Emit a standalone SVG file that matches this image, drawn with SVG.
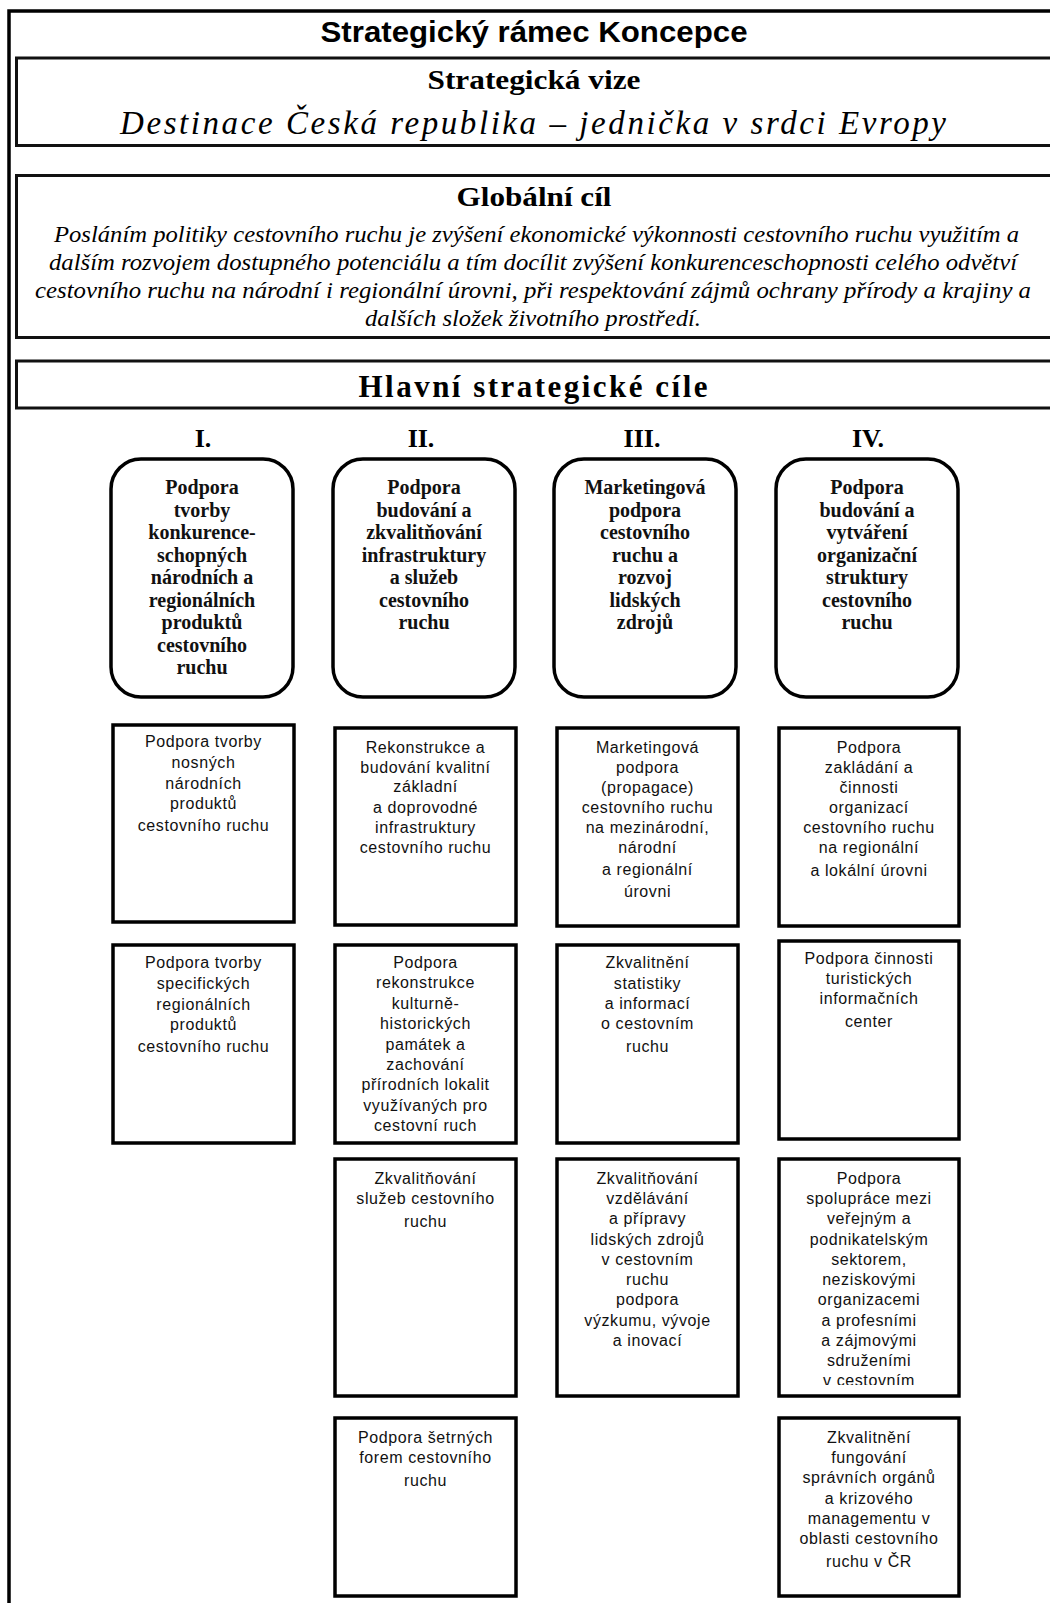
<svg xmlns="http://www.w3.org/2000/svg" width="1050" height="1603" viewBox="0 0 1050 1603">
<style>
.frame{fill:none;stroke:#000;stroke-width:3.5}
.band{fill:#fff;stroke:#111;stroke-width:3}
.goal{fill:#fff;stroke:#000;stroke-width:3.5}
.sub{fill:#fff;stroke:#000;stroke-width:3.5}
.title{font-family:"Liberation Sans",Arial,sans-serif;font-weight:bold;font-size:29px;fill:#000;text-anchor:middle}
.hb{font-family:"Liberation Serif","Times New Roman",serif;font-weight:bold;font-size:28px;fill:#000;text-anchor:middle}
.hl{font-family:"Liberation Serif","Times New Roman",serif;font-weight:bold;font-size:31px;fill:#000;text-anchor:middle}
.vis{font-family:"Liberation Serif","Times New Roman",serif;font-style:italic;font-size:33px;fill:#000;text-anchor:middle}
.par{font-family:"Liberation Serif","Times New Roman",serif;font-style:italic;font-size:24px;fill:#000;text-anchor:middle}
.rom{font-family:"Liberation Serif","Times New Roman",serif;font-weight:bold;font-size:26px;fill:#000;text-anchor:middle}
.gt{font-family:"Liberation Serif","Times New Roman",serif;font-weight:bold;font-size:20px;fill:#111;text-anchor:middle}
.st{font-family:"Liberation Sans",Arial,sans-serif;font-size:16px;letter-spacing:0.6px;fill:#111;text-anchor:middle}
</style>
<defs>
<clipPath id="clipIV3"><rect x="781" y="1161" width="176" height="224"/></clipPath>
</defs>

<g id="frame">
<path class="frame" d="M9,1603 V11 H1050"/>
<text class="title" x="534" y="42" textLength="427" lengthAdjust="spacingAndGlyphs">Strategický rámec Koncepce</text>
</g>

<g id="vize">
<rect class="band" x="16.5" y="58" width="1040" height="87.5"/>
<text class="hb" x="534" y="89" textLength="213" lengthAdjust="spacingAndGlyphs">Strategická vize</text>
<text class="vis" x="533" y="134" textLength="826" lengthAdjust="spacing">Destinace Česká republika – jednička v srdci Evropy</text>
</g>

<g id="globalni-cil">
<rect class="band" x="16.5" y="175.5" width="1040" height="162"/>
<text class="hb" x="534" y="206" textLength="155" lengthAdjust="spacingAndGlyphs">Globální cíl</text>
<text class="par" x="536.5" y="242" textLength="965" lengthAdjust="spacingAndGlyphs">Posláním politiky cestovního ruchu je zvýšení ekonomické výkonnosti cestovního ruchu využitím a</text>
<text class="par" x="533" y="270" textLength="968" lengthAdjust="spacingAndGlyphs">dalším rozvojem dostupného potenciálu a tím docílit zvýšení konkurenceschopnosti celého odvětví</text>
<text class="par" x="533" y="298" textLength="996" lengthAdjust="spacingAndGlyphs">cestovního ruchu na národní i regionální úrovni, při respektování zájmů ochrany přírody a krajiny a</text>
<text class="par" x="533" y="326" textLength="336" lengthAdjust="spacingAndGlyphs">dalších složek životního prostředí.</text>
</g>

<g id="hlavni-cile">
<rect class="band" x="16.5" y="361" width="1040" height="47"/>
<text class="hl" x="533" y="397" textLength="349" lengthAdjust="spacing">Hlavní strategické cíle</text>
</g>

<g id="cil-I">
<text class="rom" x="203" y="447">I.</text>
<rect class="goal" x="111" y="459" width="182" height="238" rx="30"/>
<text class="gt" x="202" y="494"><tspan x="202">Podpora</tspan><tspan x="202" dy="22.5">tvorby</tspan><tspan x="202" dy="22.5">konkurence-</tspan><tspan x="202" dy="22.5">schopných</tspan><tspan x="202" dy="22.5">národních a</tspan><tspan x="202" dy="22.5">regionálních</tspan><tspan x="202" dy="22.5">produktů</tspan><tspan x="202" dy="22.5">cestovního</tspan><tspan x="202" dy="22.5">ruchu</tspan></text>
</g>
<g id="cil-II">
<text class="rom" x="421" y="447">II.</text>
<rect class="goal" x="333" y="459" width="182" height="238" rx="30"/>
<text class="gt" x="424" y="494"><tspan x="424">Podpora</tspan><tspan x="424" dy="22.5">budování a</tspan><tspan x="424" dy="22.5">zkvalitňování</tspan><tspan x="424" dy="22.5">infrastruktury</tspan><tspan x="424" dy="22.5">a služeb</tspan><tspan x="424" dy="22.5">cestovního</tspan><tspan x="424" dy="22.5">ruchu</tspan></text>
</g>
<g id="cil-III">
<text class="rom" x="642" y="447">III.</text>
<rect class="goal" x="554" y="459" width="182" height="238" rx="30"/>
<text class="gt" x="645" y="494"><tspan x="645">Marketingová</tspan><tspan x="645" dy="22.5">podpora</tspan><tspan x="645" dy="22.5">cestovního</tspan><tspan x="645" dy="22.5">ruchu  a</tspan><tspan x="645" dy="22.5">rozvoj</tspan><tspan x="645" dy="22.5">lidských</tspan><tspan x="645" dy="22.5">zdrojů</tspan></text>
</g>
<g id="cil-IV">
<text class="rom" x="868" y="447">IV.</text>
<rect class="goal" x="776" y="459" width="182" height="238" rx="30"/>
<text class="gt" x="867" y="494"><tspan x="867">Podpora</tspan><tspan x="867" dy="22.5">budování a</tspan><tspan x="867" dy="22.5">vytváření</tspan><tspan x="867" dy="22.5">organizační</tspan><tspan x="867" dy="22.5">struktury</tspan><tspan x="867" dy="22.5">cestovního</tspan><tspan x="867" dy="22.5">ruchu</tspan></text>
</g>

<g id="I-1">
<rect class="sub" x="113" y="725" width="181" height="197"/>
<text class="st" y="747"><tspan x="203.5">Podpora tvorby</tspan><tspan x="203.5" dy="21">nosných</tspan><tspan x="203.5" dy="20.5">národních</tspan><tspan x="203.5" dy="20.5">produktů</tspan><tspan x="203.5" dy="21.5">cestovního ruchu</tspan></text>
</g>
<g id="I-2">
<rect class="sub" x="113" y="945" width="181" height="198"/>
<text class="st" y="968"><tspan x="203.5">Podpora tvorby</tspan><tspan x="203.5" dy="21">specifických</tspan><tspan x="203.5" dy="20.5">regionálních</tspan><tspan x="203.5" dy="20.5">produktů</tspan><tspan x="203.5" dy="21.5">cestovního ruchu</tspan></text>
</g>
<g id="II-1">
<rect class="sub" x="335" y="728" width="181" height="197"/>
<text class="st" y="752.5"><tspan x="425.5">Rekonstrukce a</tspan><tspan x="425.5" dy="20">budování kvalitní</tspan><tspan x="425.5" dy="19.5">základní</tspan><tspan x="425.5" dy="21">a  doprovodné</tspan><tspan x="425.5" dy="20">infrastruktury</tspan><tspan x="425.5" dy="20">cestovního ruchu</tspan></text>
</g>
<g id="II-2">
<rect class="sub" x="335" y="945" width="181" height="198"/>
<text class="st" y="968"><tspan x="425.5">Podpora</tspan><tspan x="425.5" dy="20.4">rekonstrukce</tspan><tspan x="425.5" dy="20.4">kulturně-</tspan><tspan x="425.5" dy="20.4">historických</tspan><tspan x="425.5" dy="20.4">památek a</tspan><tspan x="425.5" dy="20.4">zachování</tspan><tspan x="425.5" dy="20.4">přírodních lokalit</tspan><tspan x="425.5" dy="20.4">využívaných pro</tspan><tspan x="425.5" dy="20.4">cestovní ruch</tspan></text>
</g>
<g id="II-3">
<rect class="sub" x="335" y="1159" width="181" height="237"/>
<text class="st" y="1184"><tspan x="425.5">Zkvalitňování</tspan><tspan x="425.5" dy="20">služeb cestovního</tspan><tspan x="425.5" dy="23">ruchu</tspan></text>
</g>
<g id="II-4">
<rect class="sub" x="335" y="1418" width="181" height="178"/>
<text class="st" y="1443"><tspan x="425.5">Podpora šetrných</tspan><tspan x="425.5" dy="20">forem cestovního</tspan><tspan x="425.5" dy="22.5">ruchu</tspan></text>
</g>
<g id="III-1">
<rect class="sub" x="557" y="728" width="181" height="198"/>
<text class="st" y="752.5"><tspan x="647.5">Marketingová</tspan><tspan x="647.5" dy="20">podpora</tspan><tspan x="647.5" dy="20">(propagace)</tspan><tspan x="647.5" dy="20.5">cestovního  ruchu</tspan><tspan x="647.5" dy="20">na mezinárodní,</tspan><tspan x="647.5" dy="20">národní</tspan><tspan x="647.5" dy="22">a  regionální</tspan><tspan x="647.5" dy="21.5">úrovni</tspan></text>
</g>
<g id="III-2">
<rect class="sub" x="557" y="945" width="181" height="198"/>
<text class="st" y="968"><tspan x="647.5">Zkvalitnění</tspan><tspan x="647.5" dy="21">statistiky</tspan><tspan x="647.5" dy="20">a informací</tspan><tspan x="647.5" dy="20">o  cestovním</tspan><tspan x="647.5" dy="22.5">ruchu</tspan></text>
</g>
<g id="III-3">
<rect class="sub" x="557" y="1159" width="181" height="237"/>
<text class="st" y="1184"><tspan x="647.5">Zkvalitňování</tspan><tspan x="647.5" dy="20">vzdělávání</tspan><tspan x="647.5" dy="20">a přípravy</tspan><tspan x="647.5" dy="20.5">lidských zdrojů</tspan><tspan x="647.5" dy="20">v cestovním</tspan><tspan x="647.5" dy="20">ruchu</tspan><tspan x="647.5" dy="20">podpora</tspan><tspan x="647.5" dy="21">výzkumu, vývoje</tspan><tspan x="647.5" dy="20">a inovací</tspan></text>
</g>
<g id="IV-1">
<rect class="sub" x="779" y="728" width="180" height="198"/>
<text class="st" y="752.5"><tspan x="869">Podpora</tspan><tspan x="869" dy="20">zakládání a</tspan><tspan x="869" dy="20">činnosti</tspan><tspan x="869" dy="20.5">organizací</tspan><tspan x="869" dy="20">cestovního ruchu</tspan><tspan x="869" dy="20">na regionální</tspan><tspan x="869" dy="23">a lokální úrovni</tspan></text>
</g>
<g id="IV-2">
<rect class="sub" x="779" y="941" width="180" height="198"/>
<text class="st" y="964"><tspan x="869">Podpora činnosti</tspan><tspan x="869" dy="20">turistických</tspan><tspan x="869" dy="20">informačních</tspan><tspan x="869" dy="23">center</tspan></text>
</g>
<g id="IV-3">
<rect class="sub" x="779" y="1159" width="180" height="237"/>
<text class="st" y="1184" clip-path="url(#clipIV3)"><tspan x="869">Podpora</tspan><tspan x="869" dy="20">spolupráce mezi</tspan><tspan x="869" dy="20">veřejným a</tspan><tspan x="869" dy="20.5">podnikatelským</tspan><tspan x="869" dy="20">sektorem,</tspan><tspan x="869" dy="20">neziskovými</tspan><tspan x="869" dy="20">organizacemi</tspan><tspan x="869" dy="21">a profesními</tspan><tspan x="869" dy="20">a zájmovými</tspan><tspan x="869" dy="20">sdruženími</tspan><tspan x="869" dy="20">v cestovním</tspan></text>
</g>
<g id="IV-4">
<rect class="sub" x="779" y="1418" width="180" height="178"/>
<text class="st" y="1443"><tspan x="869">Zkvalitnění</tspan><tspan x="869" dy="20">fungování</tspan><tspan x="869" dy="20">správních orgánů</tspan><tspan x="869" dy="20.5">a krizového</tspan><tspan x="869" dy="20">managementu v</tspan><tspan x="869" dy="20">oblasti cestovního</tspan><tspan x="869" dy="23.5">ruchu v ČR</tspan></text>
</g>

<g id="connectors"></g>
</svg>
